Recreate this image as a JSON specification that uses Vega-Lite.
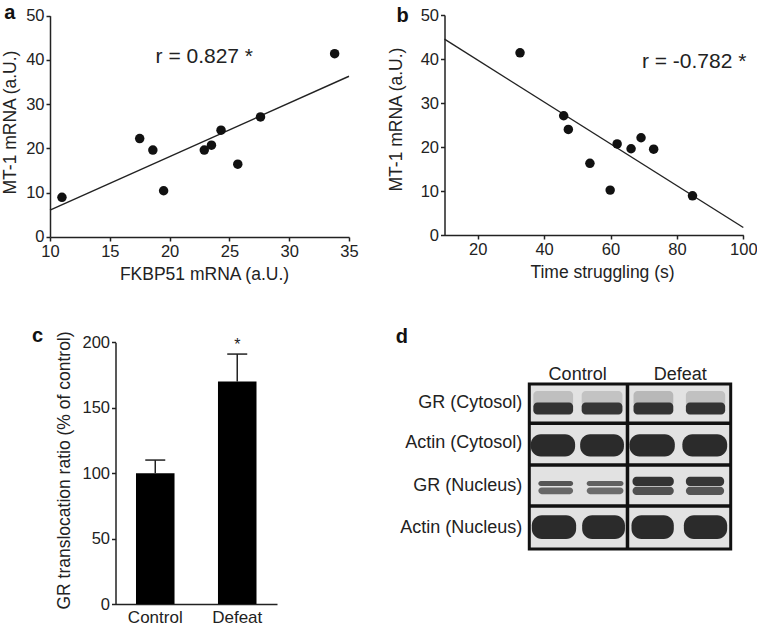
{
  "$schema": "https://vega.github.io/schema/vega-lite/v6.json",
  "width": 757,
  "height": 627,
  "autosize": {"type": "none"},
  "padding": 0,
  "background": "white",
  "config": {
    "view": {"stroke": null},
    "font": "Liberation Sans",
    "axis": {
      "grid": false,
      "domainColor": "#222222",
      "domainWidth": 1.5,
      "tickColor": "#222222",
      "tickWidth": 1.5,
      "tickSize": 4,
      "labelPadding": 2,
      "labelFont": "Liberation Sans",
      "labelFontSize": 16.5,
      "labelColor": "#222222",
      "labelFlush": false,
      "labelOverlap": false,
      "titleFont": "Liberation Sans",
      "titleFontSize": 17.5,
      "titleFontWeight": "normal",
      "titleColor": "#222222"
    }
  },
  "datasets": {
    "scatterA": [
      {"FKBP51": 11.0, "MT1": 8.9},
      {"FKBP51": 17.5, "MT1": 22.2},
      {"FKBP51": 18.6, "MT1": 19.6},
      {"FKBP51": 19.5, "MT1": 10.4},
      {"FKBP51": 22.9, "MT1": 19.6},
      {"FKBP51": 23.5, "MT1": 20.7},
      {"FKBP51": 24.3, "MT1": 24.1},
      {"FKBP51": 25.7, "MT1": 16.4},
      {"FKBP51": 27.6, "MT1": 27.1},
      {"FKBP51": 33.8, "MT1": 41.4}
    ],
    "fitA": [{"FKBP51": 10, "MT1": 6.0}, {"FKBP51": 35, "MT1": 36.3}],
    "noteA": [{"FKBP51": 22.9, "MT1": 40.7, "label": "r = 0.827 *"}],
    "tagA": [{"FKBP51": 6.63, "MT1": 50.6, "label": "a"}],
    "scatterB": [
      {"time": 32.75, "MT1": 41.4},
      {"time": 45.9, "MT1": 27.1},
      {"time": 47.3, "MT1": 24.0},
      {"time": 53.8, "MT1": 16.3},
      {"time": 59.9, "MT1": 10.2},
      {"time": 62.0, "MT1": 20.7},
      {"time": 66.2, "MT1": 19.6},
      {"time": 69.2, "MT1": 22.1},
      {"time": 73.0, "MT1": 19.5},
      {"time": 84.7, "MT1": 8.9}
    ],
    "fitB": [{"time": 10, "MT1": 44.5}, {"time": 100, "MT1": 1.7}],
    "noteB": [{"time": 85.2, "MT1": 39.4, "label": "r = -0.782 *"}],
    "tagB": [{"time": -2.65, "MT1": 49.8, "label": "b"}],
    "translocation": [
      {"group": "Control", "ratio": 100, "upper": 110},
      {"group": "Defeat", "ratio": 170, "upper": 191}
    ],
    "signif": [{"group": "Defeat", "ratio": 194, "label": "*"}],
    "tagC": [{"group": "Control", "ratio": 204.8, "label": "c"}],
    "membrane": [{"x1": 0, "x2": 4, "y1": 0, "y2": 4}],
    "bands": [
      {"protein": "GR (Cytosol)", "lane": 1, "x1": 0.08, "x2": 0.87, "y1": 0.17, "y2": 0.55, "intensity": 0.17},
      {"protein": "GR (Cytosol)", "lane": 2, "x1": 1.04, "x2": 1.85, "y1": 0.17, "y2": 0.55, "intensity": 0.15},
      {"protein": "GR (Cytosol)", "lane": 3, "x1": 2.07, "x2": 2.86, "y1": 0.17, "y2": 0.55, "intensity": 0.2},
      {"protein": "GR (Cytosol)", "lane": 4, "x1": 3.11, "x2": 3.89, "y1": 0.17, "y2": 0.55, "intensity": 0.16},
      {"protein": "GR (Cytosol)", "lane": 1, "x1": 0.08, "x2": 0.87, "y1": 0.45, "y2": 0.74, "intensity": 0.92},
      {"protein": "GR (Cytosol)", "lane": 2, "x1": 1.04, "x2": 1.85, "y1": 0.45, "y2": 0.74, "intensity": 0.9},
      {"protein": "GR (Cytosol)", "lane": 3, "x1": 2.07, "x2": 2.86, "y1": 0.45, "y2": 0.74, "intensity": 0.92},
      {"protein": "GR (Cytosol)", "lane": 4, "x1": 3.11, "x2": 3.89, "y1": 0.45, "y2": 0.74, "intensity": 0.92},
      {"protein": "Actin (Cytosol)", "lane": 1, "x1": 0.03, "x2": 0.91, "y1": 1.22, "y2": 1.76, "intensity": 0.97},
      {"protein": "Actin (Cytosol)", "lane": 2, "x1": 1.01, "x2": 1.88, "y1": 1.22, "y2": 1.76, "intensity": 0.97},
      {"protein": "Actin (Cytosol)", "lane": 3, "x1": 1.99, "x2": 2.89, "y1": 1.22, "y2": 1.76, "intensity": 0.97},
      {"protein": "Actin (Cytosol)", "lane": 4, "x1": 3.04, "x2": 3.93, "y1": 1.22, "y2": 1.76, "intensity": 0.97},
      {"protein": "GR (Nucleus)", "lane": 1, "x1": 0.18, "x2": 0.87, "y1": 2.35, "y2": 2.47, "intensity": 0.72},
      {"protein": "GR (Nucleus)", "lane": 2, "x1": 1.14, "x2": 1.87, "y1": 2.35, "y2": 2.47, "intensity": 0.66},
      {"protein": "GR (Nucleus)", "lane": 1, "x1": 0.18, "x2": 0.87, "y1": 2.51, "y2": 2.67, "intensity": 0.62},
      {"protein": "GR (Nucleus)", "lane": 2, "x1": 1.14, "x2": 1.87, "y1": 2.51, "y2": 2.67, "intensity": 0.6},
      {"protein": "GR (Nucleus)", "lane": 3, "x1": 2.05, "x2": 2.87, "y1": 2.25, "y2": 2.47, "intensity": 0.92},
      {"protein": "GR (Nucleus)", "lane": 4, "x1": 3.11, "x2": 3.87, "y1": 2.25, "y2": 2.47, "intensity": 0.9},
      {"protein": "GR (Nucleus)", "lane": 3, "x1": 2.05, "x2": 2.87, "y1": 2.49, "y2": 2.69, "intensity": 0.74},
      {"protein": "GR (Nucleus)", "lane": 4, "x1": 3.11, "x2": 3.87, "y1": 2.49, "y2": 2.69, "intensity": 0.72},
      {"protein": "Actin (Nucleus)", "lane": 1, "x1": 0.05, "x2": 0.93, "y1": 3.18, "y2": 3.76, "intensity": 0.97},
      {"protein": "Actin (Nucleus)", "lane": 2, "x1": 1.05, "x2": 1.9, "y1": 3.18, "y2": 3.76, "intensity": 0.97},
      {"protein": "Actin (Nucleus)", "lane": 3, "x1": 2.03, "x2": 2.87, "y1": 3.18, "y2": 3.76, "intensity": 0.97},
      {"protein": "Actin (Nucleus)", "lane": 4, "x1": 3.07, "x2": 3.93, "y1": 3.18, "y2": 3.76, "intensity": 0.97}
    ],
    "blotLines": [
      {"x1": 1.95, "x2": 1.95, "y1": 0, "y2": 4, "kind": "group"},
      {"x1": 0, "x2": 4, "y1": 1.964, "y2": 1.964, "kind": "fraction"},
      {"x1": 0, "x2": 4, "y1": 0.953, "y2": 0.953, "kind": "antibody"},
      {"x1": 0, "x2": 4, "y1": 2.958, "y2": 2.958, "kind": "antibody"}
    ],
    "blotRows": [
      {"label": "GR (Cytosol)", "x1": 0, "y1": 0.45},
      {"label": "Actin (Cytosol)", "x1": 0, "y1": 1.44},
      {"label": "GR (Nucleus)", "x1": 0, "y1": 2.47},
      {"label": "Actin (Nucleus)", "x1": 0, "y1": 3.48}
    ],
    "blotHeads": [
      {"label": "Control", "x1": 0.96, "y1": 0},
      {"label": "Defeat", "x1": 3.0, "y1": 0}
    ],
    "tagD": [{"label": "d", "x1": -2.53, "y1": -1.15}]
  },
  "layer": [
    {
      "encoding": {
        "x": {"field": "FKBP51", "type": "quantitative",
          "scale": {"domain": [10, 35], "range": [50, 349], "nice": false, "zero": false},
          "axis": {"title": "FKBP51 mRNA (a.U.)", "orient": "bottom", "offset": -390, "values": [10, 15, 20, 25, 30, 35], "titlePadding": 6, "titleX": 204}},
        "y": {"field": "MT1", "type": "quantitative",
          "scale": {"domain": [0, 50], "range": [236.7, 15.7], "nice": false, "zero": false},
          "axis": {"title": "MT-1 mRNA (a.U.)", "orient": "left", "offset": -50, "values": [0, 10, 20, 30, 40, 50], "titlePadding": 6, "titleY": 122}}
      },
      "layer": [
        {"data": {"name": "fitA"}, "mark": {"type": "line", "color": "#222222", "strokeWidth": 1.4}},
        {"data": {"name": "scatterA"}, "mark": {"type": "circle", "size": 90, "color": "#111111", "opacity": 1}},
        {"data": {"name": "noteA"}, "mark": {"type": "text", "fontSize": 21, "color": "#222222", "align": "center", "baseline": "middle"}, "encoding": {"text": {"field": "label"}}},
        {"data": {"name": "tagA"}, "mark": {"type": "text", "fontSize": 20, "fontWeight": "bold", "color": "#111111", "align": "center", "baseline": "middle"}, "encoding": {"text": {"field": "label"}}}
      ]
    },
    {
      "encoding": {
        "x": {"field": "time", "type": "quantitative",
          "scale": {"domain": [10, 100], "range": [444.5, 743.3], "nice": false, "zero": false},
          "axis": {"title": "Time struggling (s)", "orient": "bottom", "offset": -392, "values": [20, 40, 60, 80, 100], "titlePadding": 6, "titleX": 602}},
        "y": {"field": "MT1", "type": "quantitative",
          "scale": {"domain": [0, 50], "range": [235, 15], "nice": false, "zero": false},
          "axis": {"title": "MT-1 mRNA (a.U.)", "orient": "left", "offset": -444.5, "values": [0, 10, 20, 30, 40, 50], "titlePadding": 15, "titleY": 119}}
      },
      "layer": [
        {"data": {"name": "fitB"}, "mark": {"type": "line", "color": "#222222", "strokeWidth": 1.4}},
        {"data": {"name": "scatterB"}, "mark": {"type": "circle", "size": 90, "color": "#111111", "opacity": 1}},
        {"data": {"name": "noteB"}, "mark": {"type": "text", "fontSize": 21, "color": "#222222", "align": "center", "baseline": "middle"}, "encoding": {"text": {"field": "label"}}},
        {"data": {"name": "tagB"}, "mark": {"type": "text", "fontSize": 20, "fontWeight": "bold", "color": "#111111", "align": "center", "baseline": "middle"}, "encoding": {"text": {"field": "label"}}}
      ]
    },
    {
      "encoding": {
        "x": {"field": "group", "type": "nominal",
          "scale": {"domain": ["Control", "Defeat"], "range": [115.5, 277], "paddingInner": 0.53, "paddingOuter": 0.25},
          "axis": {"title": null, "orient": "bottom", "offset": -23, "ticks": false, "labelPadding": 5, "labelAngle": 0, "labelFontSize": 17}},
        "y": {"field": "ratio", "type": "quantitative",
          "scale": {"domain": [0, 200], "range": [604, 342.3], "nice": false, "zero": false},
          "axis": {"title": "GR translocation ratio (% of control)", "orient": "left", "offset": -115.5, "values": [0, 50, 100, 150, 200], "titlePadding": 8, "titleY": 470}}
      },
      "layer": [
        {"data": {"name": "translocation"}, "mark": {"type": "rule", "color": "#222222", "strokeWidth": 1.5}, "encoding": {"y2": {"field": "upper"}}},
        {"data": {"name": "translocation"}, "mark": {"type": "tick", "color": "#222222", "thickness": 1.5, "size": 20, "opacity": 1}, "encoding": {"y": {"field": "upper", "type": "quantitative"}}},
        {"data": {"name": "translocation"}, "mark": {"type": "bar", "color": "#000000"}},
        {"data": {"name": "signif"}, "mark": {"type": "text", "fontSize": 16, "color": "#222222", "align": "center", "baseline": "alphabetic"}, "encoding": {"text": {"field": "label"}}},
        {"data": {"name": "tagC"}, "mark": {"type": "text", "fontSize": 20, "fontWeight": "bold", "color": "#111111", "align": "center", "baseline": "middle", "dx": -117.7}, "encoding": {"text": {"field": "label"}}}
      ]
    },
    {
      "encoding": {
        "x": {"field": "x1", "type": "quantitative", "scale": {"domain": [0, 4], "range": [529.3, 730.7], "nice": false, "zero": false}, "axis": null},
        "y": {"field": "y1", "type": "quantitative", "scale": {"domain": [0, 4], "range": [384, 549], "nice": false, "zero": false}, "axis": null}
      },
      "layer": [
        {"data": {"name": "membrane"}, "mark": {"type": "rect", "color": "#e2e2e2"}, "encoding": {"x2": {"field": "x2"}, "y2": {"field": "y2"}}},
        {"data": {"name": "bands"}, "transform": [{"filter": "indexof(datum.protein, 'Actin') === 0"}],
          "mark": {"type": "rect", "cornerRadius": 10, "opacity": 1},
          "encoding": {"x2": {"field": "x2"}, "y2": {"field": "y2"},
            "color": {"field": "intensity", "type": "quantitative", "scale": {"domain": [0, 1], "range": ["#e2e2e2", "#262626"]}, "legend": null}}},
        {"data": {"name": "bands"}, "transform": [{"filter": "indexof(datum.protein, 'GR') === 0"}],
          "mark": {"type": "rect", "cornerRadius": 4, "opacity": 1},
          "encoding": {"x2": {"field": "x2"}, "y2": {"field": "y2"},
            "color": {"field": "intensity", "type": "quantitative", "scale": {"domain": [0, 1], "range": ["#e2e2e2", "#262626"]}, "legend": null}}},
        {"data": {"name": "blotLines"}, "mark": {"type": "rule", "color": "#111111"},
          "encoding": {"x2": {"field": "x2"}, "y2": {"field": "y2"},
            "strokeWidth": {"field": "kind", "type": "nominal", "scale": {"domain": ["group", "fraction", "antibody"], "range": [3.5, 3.5, 1.5]}, "legend": null}}},
        {"data": {"name": "membrane"}, "mark": {"type": "rect", "fill": null, "filled": false, "stroke": "#111111", "strokeWidth": 3}, "encoding": {"x2": {"field": "x2"}, "y2": {"field": "y2"}}},
        {"data": {"name": "blotRows"}, "mark": {"type": "text", "fontSize": 18, "color": "#222222", "align": "right", "baseline": "middle", "dx": -7}, "encoding": {"text": {"field": "label"}}},
        {"data": {"name": "blotHeads"}, "mark": {"type": "text", "fontSize": 18, "color": "#222222", "align": "center", "baseline": "alphabetic", "dy": -4}, "encoding": {"text": {"field": "label"}}},
        {"data": {"name": "tagD"}, "mark": {"type": "text", "fontSize": 20, "fontWeight": "bold", "color": "#111111", "align": "center", "baseline": "middle"}, "encoding": {"text": {"field": "label"}}}
      ]
    }
  ],
  "resolve": {
    "scale": {"x": "independent", "y": "independent", "color": "independent", "strokeWidth": "independent"},
    "axis": {"x": "independent", "y": "independent"}
  }
}
